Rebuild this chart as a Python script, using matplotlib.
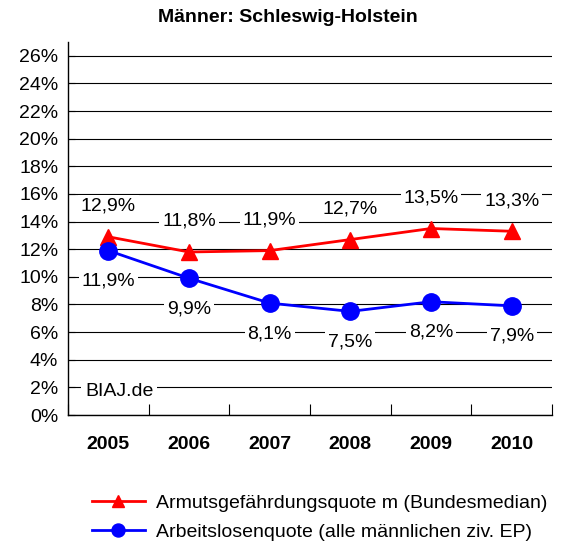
import matplotlib.pyplot as plt
import numpy as np

plt.rcParams['font.family'] = ['Liberation Sans', 'DejaVu Sans']

# data
years = ['2005', '2006', '2007', '2008', '2009', '2010']
armut = [12.9, 11.8, 11.9, 12.7, 13.5, 13.3]
alq = [11.9, 9.9, 8.1, 7.5, 8.2, 7.9]
yticks = np.arange(0, 27, 2)

fig = plt.figure(figsize=(5.64, 5.42), dpi=100)
ax = fig.add_axes([68/564, 1-415/542, (552-68)/564, (415-42)/542])

x = np.arange(len(years))
ax.plot(x, armut, color='#ff0000', lw=2, marker='^', ms=12, zorder=4,
        label='Armutsgefährdungsquote m (Bundesmedian)')
ax.plot(x, alq, color='#0000ff', lw=2, marker='o', ms=12.5, zorder=4,
        label='Arbeitslosenquote (alle männlichen ziv. EP)')

# value labels with white boxes over the grid
box = dict(facecolor='white', edgecolor='none', pad=2)
for xi, v in zip(x, armut):
    ax.annotate(f'{v:.1f}%'.replace('.', ','), (xi, v), xytext=(0, 22),
                textcoords='offset points', ha='center', va='center',
                fontsize=14, bbox=box, zorder=3)
for xi, v in zip(x, alq):
    ax.annotate(f'{v:.1f}%'.replace('.', ','), (xi, v), xytext=(0, -22),
                textcoords='offset points', ha='center', va='center',
                fontsize=14, bbox=box, zorder=3)

ax.text(0.035, 0.062, 'BIAJ.de', transform=ax.transAxes, fontsize=14,
        ha='left', va='center', bbox=dict(facecolor='white', edgecolor='none', pad=3), zorder=3)

ax.set_xlim(-0.5, 5.5)
ax.set_ylim(0, 27)
ax.set_yticks(yticks)
ax.set_yticklabels([f'{t}%' for t in yticks], fontsize=14)
ax.set_xticks(np.arange(-0.5, 6, 1))
ax.set_xticklabels([])
ax.set_xticks(x, minor=True)
ax.set_xticklabels(years, minor=True, fontsize=14, fontweight='bold')
ax.tick_params(axis='x', which='major', direction='in', length=8, width=0.8)
ax.tick_params(axis='x', which='minor', length=0, pad=15)
ax.tick_params(axis='y', direction='in', length=5, width=0.8, pad=7)
ax.yaxis.grid(True, color='black', lw=0.8)
ax.set_axisbelow(True)
for s in ['top', 'right']:
    ax.spines[s].set_visible(False)
for s in ['left', 'bottom']:
    ax.spines[s].set_linewidth(1)

fig.text(288/564, 1-18/542, 'Männer: Schleswig-Holstein', ha='center', va='center',
         fontsize=14, fontweight='bold')

fig.legend(loc='upper left', bbox_to_anchor=(92/564, 1-494/542), frameon=False,
           fontsize=14, handlelength=2.7, handletextpad=0.6, labelspacing=0.6,
           markerscale=0.75, borderaxespad=0, borderpad=0)

fig.savefig('out.png', dpi=100)
